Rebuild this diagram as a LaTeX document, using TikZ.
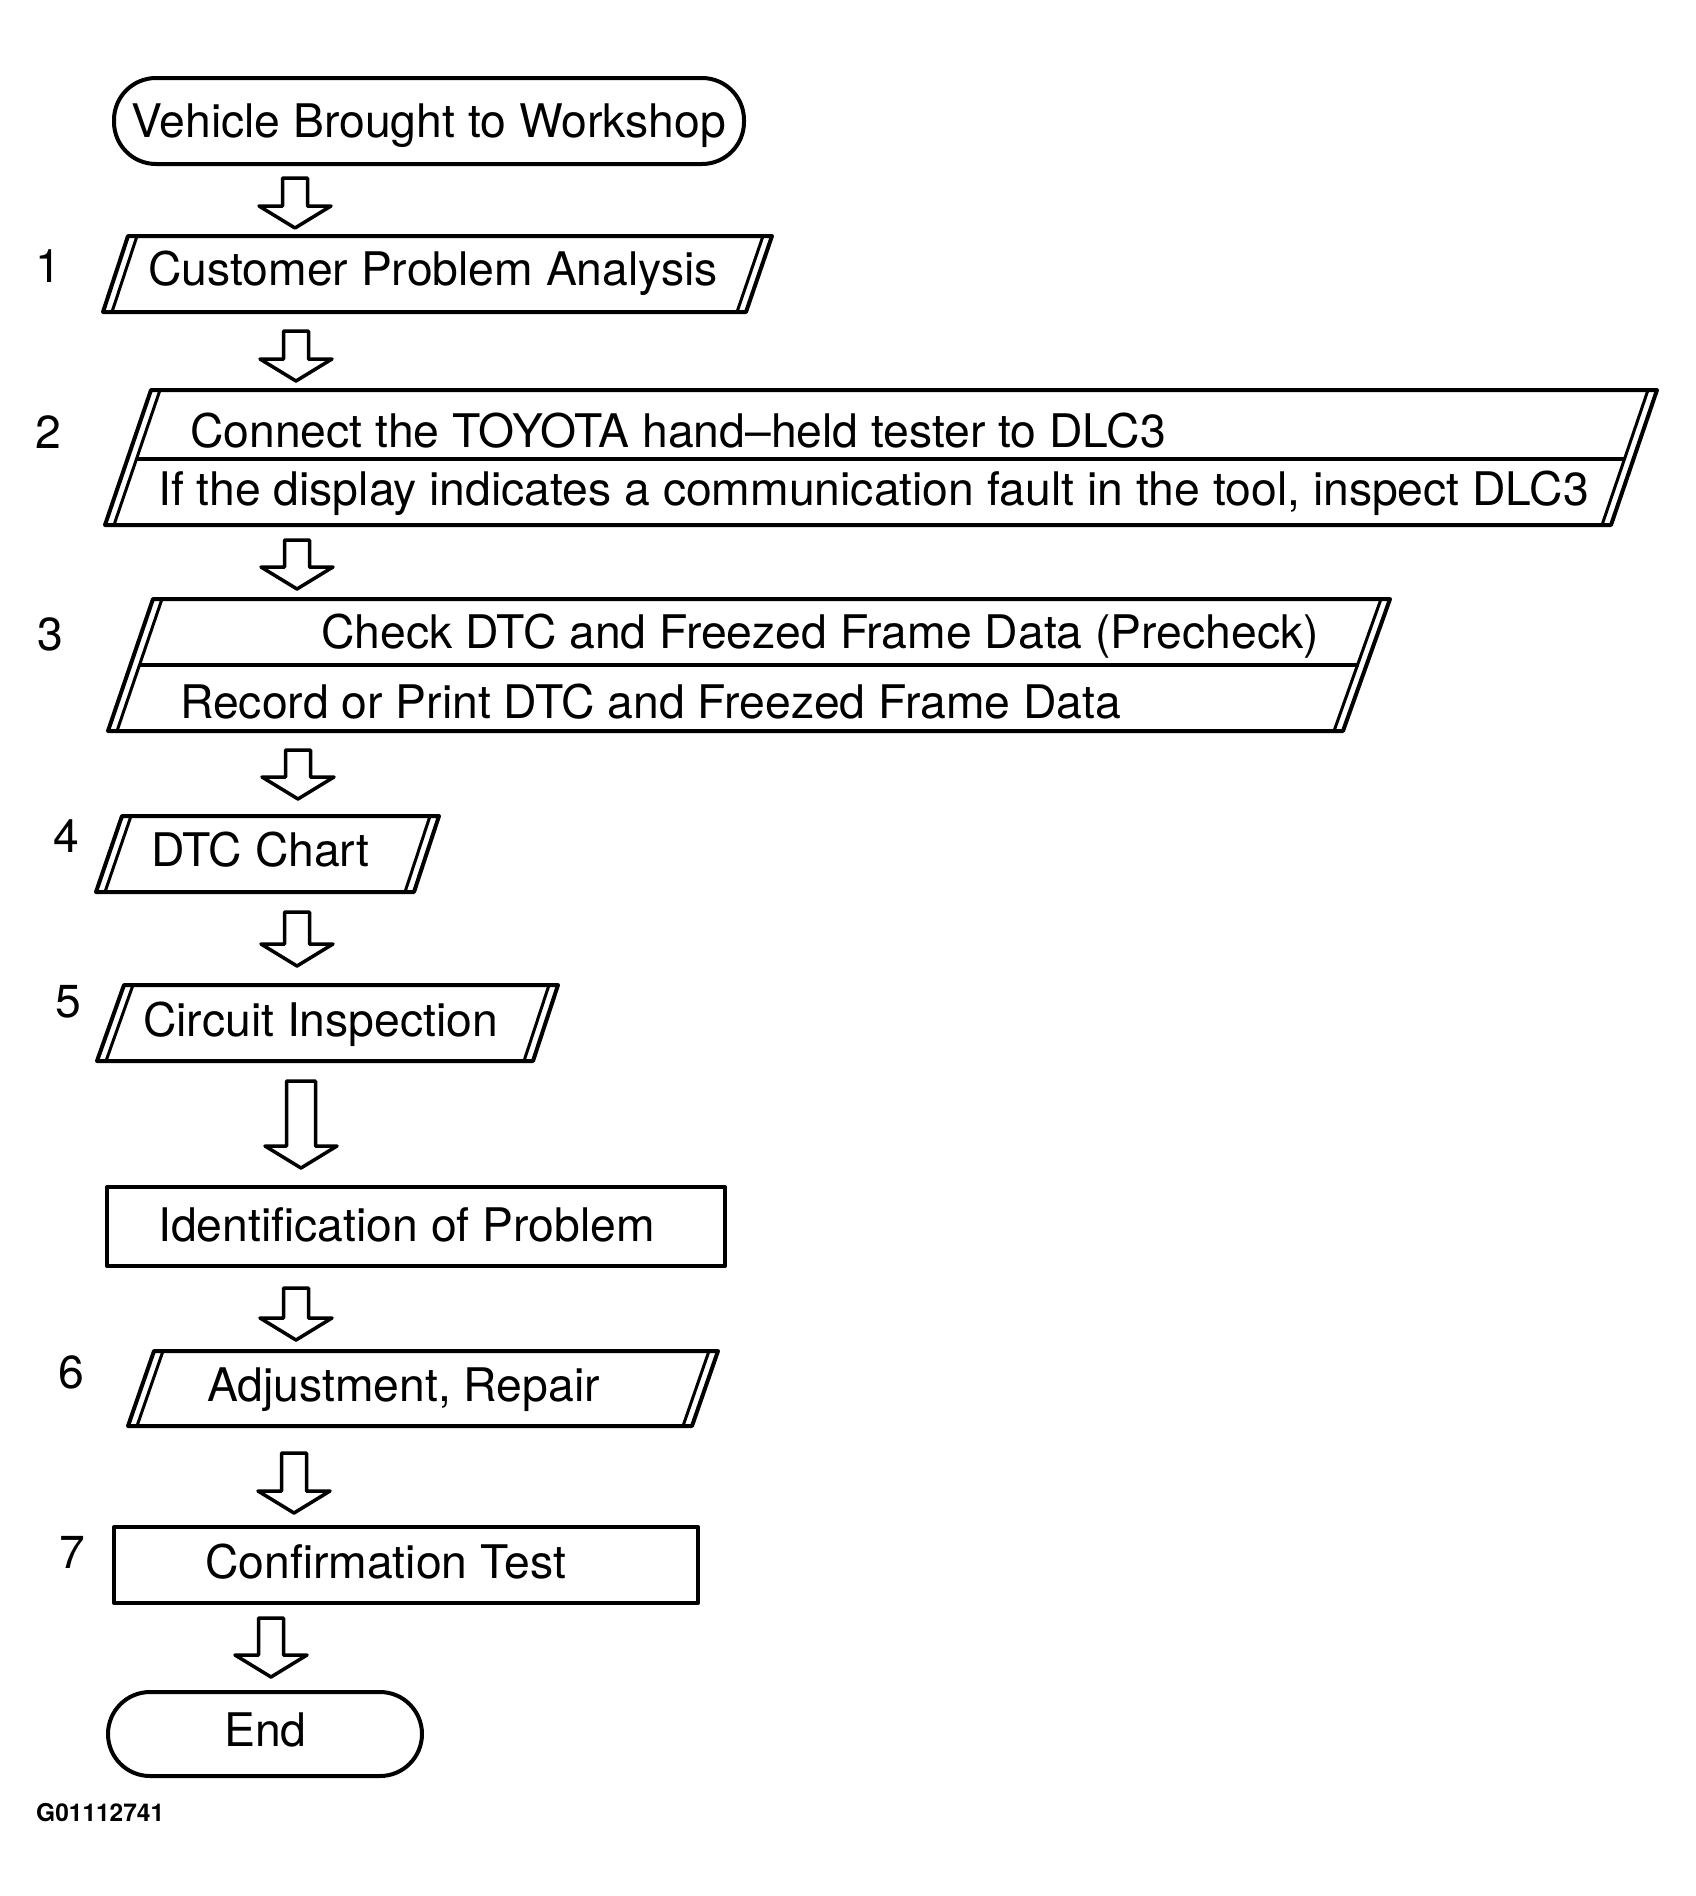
\documentclass[tikz,border=0pt]{standalone}
\usepackage{fontspec}
\setmainfont{TeX Gyre Heros}
\tikzset{
  outl/.style={line width=4pt, line join=round},
  dbl/.style={line width=3pt},
  txt/.style={anchor=base west, inner sep=0pt, font=\fontsize{46.3}{50}\selectfont},
  codetxt/.style={anchor=base west, inner sep=0pt, font=\bfseries\fontsize{24.5}{28}\selectfont},
  barrow/.style={line width=3.5pt, line join=round, fill=white},
}
% block arrow: name, x centre, y top, y tip, shaft half width
\newcommand\blockarrow[5]{%
  \coordinate (#1s) at (#2,#3);
  \coordinate (#1e) at (#2,#4);
  \draw[barrow] (#2-#5,#3) -- (#2+#5,#3) -- (#2+#5,#4-22) -- (#2+36,#4-22)
     -- (#1e) -- (#2-36,#4-22) -- (#2-#5,#4-22) -- cycle;}
% parallelogram with doubled slanted sides: name, ytop, ybot, xtl, xbl, xtr, xbr
\newcommand\pbox[7]{%
  \coordinate (#1tl) at (#4,#2); \coordinate (#1bl) at (#5,#3);
  \coordinate (#1tr) at (#6,#2); \coordinate (#1br) at (#7,#3);
  \draw[outl] (#1tl) -- (#1tr) -- (#1br) -- (#1bl) -- cycle;
  \draw[dbl] (#4+9,#2) -- (#5+9,#3);
  \draw[dbl] (#6-9,#2) -- (#7-9,#3);}
\begin{document}
\begin{tikzpicture}[x=1pt,y=-1pt]
\useasboundingbox (0,0) rectangle (1696,1896);

% start terminal
\draw[outl, rounded corners=42pt] (114,78) rectangle (744,164);
\node[txt] (t0) at (131,137) {Vehicle Brought to Workshop};
\blockarrow{a1}{295}{178}{228}{12.5}

% 1
\pbox{b1}{236}{312}{128}{103}{772}{746}
\node[txt] (n1) at (35,282) {1};
\node[txt] (t1) at (148,285) {Customer Problem Analysis};
\blockarrow{a2}{296}{331}{381}{12.5}

% 2
\pbox{b2}{390}{525}{151}{105}{1657}{1611}
\draw[outl] (136.5,459) -- (1624.5,459);
\node[txt] (n2) at (35,448) {2};
\node[txt] (t2a) at (190,447) {Connect the TOYOTA hand–held tester to DLC3};
\node[txt] (t2b) at (158,505) {If the display indicates a communication fault in the tool, inspect DLC3};
\blockarrow{a3}{297}{540}{589}{12.5}

% 3
\pbox{b3}{599}{731}{153}{108}{1390}{1343}
\draw[outl] (139.5,665) -- (1358.5,665);
\node[txt] (n3) at (37,650) {3};
\node[txt] (t3a) at (321,648) {Check DTC and Freezed Frame Data (Precheck)};
\node[txt] (t3b) at (180,718) {Record or Print DTC and Freezed Frame Data};
\blockarrow{a4}{298}{750}{799}{12.5}

% 4
\pbox{b4}{816}{892}{122}{96}{439}{414}
\node[txt] (n4) at (53,852) {4};
\node[txt] (t4) at (151,866) {DTC Chart};
\blockarrow{a5}{297}{912}{966}{12.5}

% 5
\pbox{b5}{985}{1061}{124}{97}{558}{533}
\node[txt] (n5) at (55,1017) {5};
\node[txt] (t5) at (143,1036) {Circuit Inspection};
\blockarrow{a6}{301}{1081}{1168}{14.5}

% identification
\draw[outl] (107,1187) rectangle (725,1266);
\node[txt] (t6a) at (158,1241) {Identification of Problem};
\blockarrow{a7}{296}{1288}{1340}{12.5}

% 6
\pbox{b6}{1351}{1426}{154}{128}{718}{692}
\node[txt] (n6) at (58,1388) {6};
\node[txt] (t6) at (207,1401) {Adjustment, Repair};
\blockarrow{a8}{294}{1453}{1513}{12.5}

% 7
\draw[outl] (114,1527) rectangle (698,1603);
\node[txt] (n7) at (59,1568) {7};
\node[txt] (t7) at (205,1578) {Confirmation Test};
\blockarrow{a9}{271}{1618}{1677}{12.5}

% end terminal
\draw[outl, rounded corners=42pt] (108,1692) rectangle (422,1776);
\node[txt] (t8) at (224,1746) {End};

\node[codetxt] (code) at (36,1821) {G01112741};
\end{tikzpicture}
\end{document}
